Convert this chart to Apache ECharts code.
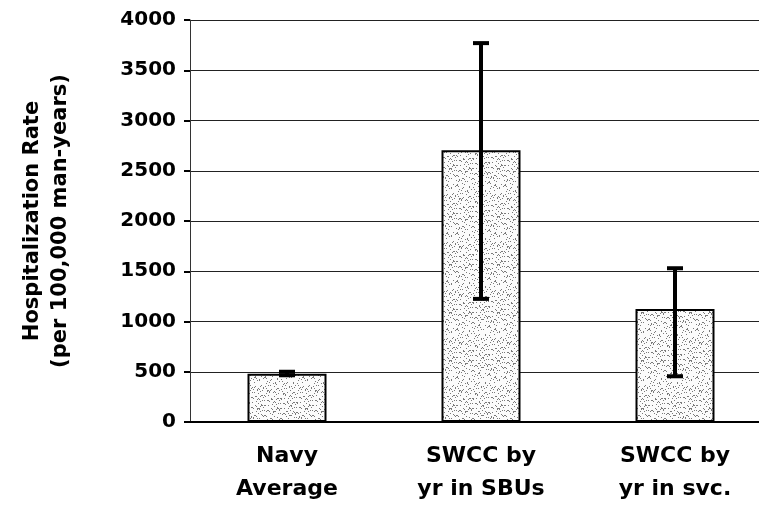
<!DOCTYPE html>
<html>
<head>
<meta charset="utf-8">
<script src="https://cdn.jsdelivr.net/npm/echarts@6/dist/echarts.min.js"></script>
<style>
  html, body { margin: 0; padding: 0; background: #fff; }
  #chart { width: 759px; height: 512px; }
</style>
</head>
<body>
<div id="chart"></div>
<script>
var categories = ['Navy\nAverage', 'SWCC by\nyr in SBUs', 'SWCC by\nyr in svc.'];
var rates = [480, 2705, 1125];
var errLow = [465, 1225, 455];
var errHigh = [500, 3770, 1530];
var yTicks = { min: 0, max: 4000, step: 500 };

// stippled fill for the bars (fixed dot layout)
function makeStipple() {
  var c = document.createElement('canvas');
  c.width = 48; c.height = 48;
  var ctx = c.getContext('2d');
  ctx.fillStyle = '#fbfbfb';
  ctx.fillRect(0, 0, 48, 48);
  ctx.fillStyle = '#7a7a7a';
  var s = 7;
  for (var i = 0; i < 300; i++) {
    s = (s * 73 + 41) % 2304;
    var x = s % 48, y = Math.floor(s / 48);
    ctx.fillRect(x, y, 1, 1);
  }
  return c;
}

var FONT = 'DejaVu Sans';
var chart = echarts.init(document.getElementById('chart'));

var option = {
  animation: false,
  backgroundColor: '#fff',
  grid: { left: 190, right: -13, top: 20, bottom: 90, outerBoundsMode: 'none', containLabel: false },
  xAxis: {
    type: 'category',
    data: categories,
    axisLine: { lineStyle: { color: '#000', width: 2 } },
    axisTick: { show: false },
    axisLabel: {
      color: '#000', fontFamily: FONT, fontWeight: 'bold',
      fontSize: 22, lineHeight: 33, margin: 18
    }
  },
  yAxis: {
    type: 'value',
    min: yTicks.min, max: yTicks.max, interval: yTicks.step,
    axisLine: { show: true, lineStyle: { color: '#333', width: 1 } },
    axisTick: { show: true, length: 6, lineStyle: { color: '#000', width: 2 } },
    axisLabel: {
      color: '#000', fontFamily: FONT, fontWeight: 'bold',
      fontSize: 20, margin: 14,
      formatter: function (v) { return String(v); }
    },
    splitLine: { lineStyle: { color: '#222', width: 1 } }
  },
  graphic: [
    {
      type: 'text', x: 33, y: 221, rotation: Math.PI / 2,
      style: {
        text: 'Hospitalization Rate', fill: '#000',
        font: 'bold 21px "DejaVu Sans"', align: 'center', verticalAlign: 'middle'
      }
    },
    {
      type: 'text', x: 61, y: 221, rotation: Math.PI / 2,
      style: {
        text: '(per 100,000 man-years)', fill: '#000',
        font: 'bold 21px "DejaVu Sans"', align: 'center', verticalAlign: 'middle'
      }
    }
  ],
  series: [
    {
      type: 'bar',
      data: rates,
      barWidth: 79,
      itemStyle: {
        color: { image: makeStipple(), repeat: 'repeat' },
        borderColor: '#000',
        borderWidth: 2
      }
    },
    {
      type: 'custom',
      z: 10,
      data: rates.map(function (v, i) { return [i, errLow[i], errHigh[i]]; }),
      renderItem: function (params, api) {
        var lo = api.coord([api.value(0), api.value(1)]);
        var hi = api.coord([api.value(0), api.value(2)]);
        var half = 8;
        var st = { stroke: '#000', lineWidth: 4 };
        return {
          type: 'group',
          children: [
            { type: 'line', shape: { x1: lo[0], y1: lo[1], x2: hi[0], y2: hi[1] }, style: st },
            { type: 'line', shape: { x1: lo[0] - half, y1: lo[1], x2: lo[0] + half, y2: lo[1] }, style: st },
            { type: 'line', shape: { x1: hi[0] - half, y1: hi[1], x2: hi[0] + half, y2: hi[1] }, style: st }
          ]
        };
      }
    }
  ]
};
chart.setOption(option);
</script>
</body>
</html>
